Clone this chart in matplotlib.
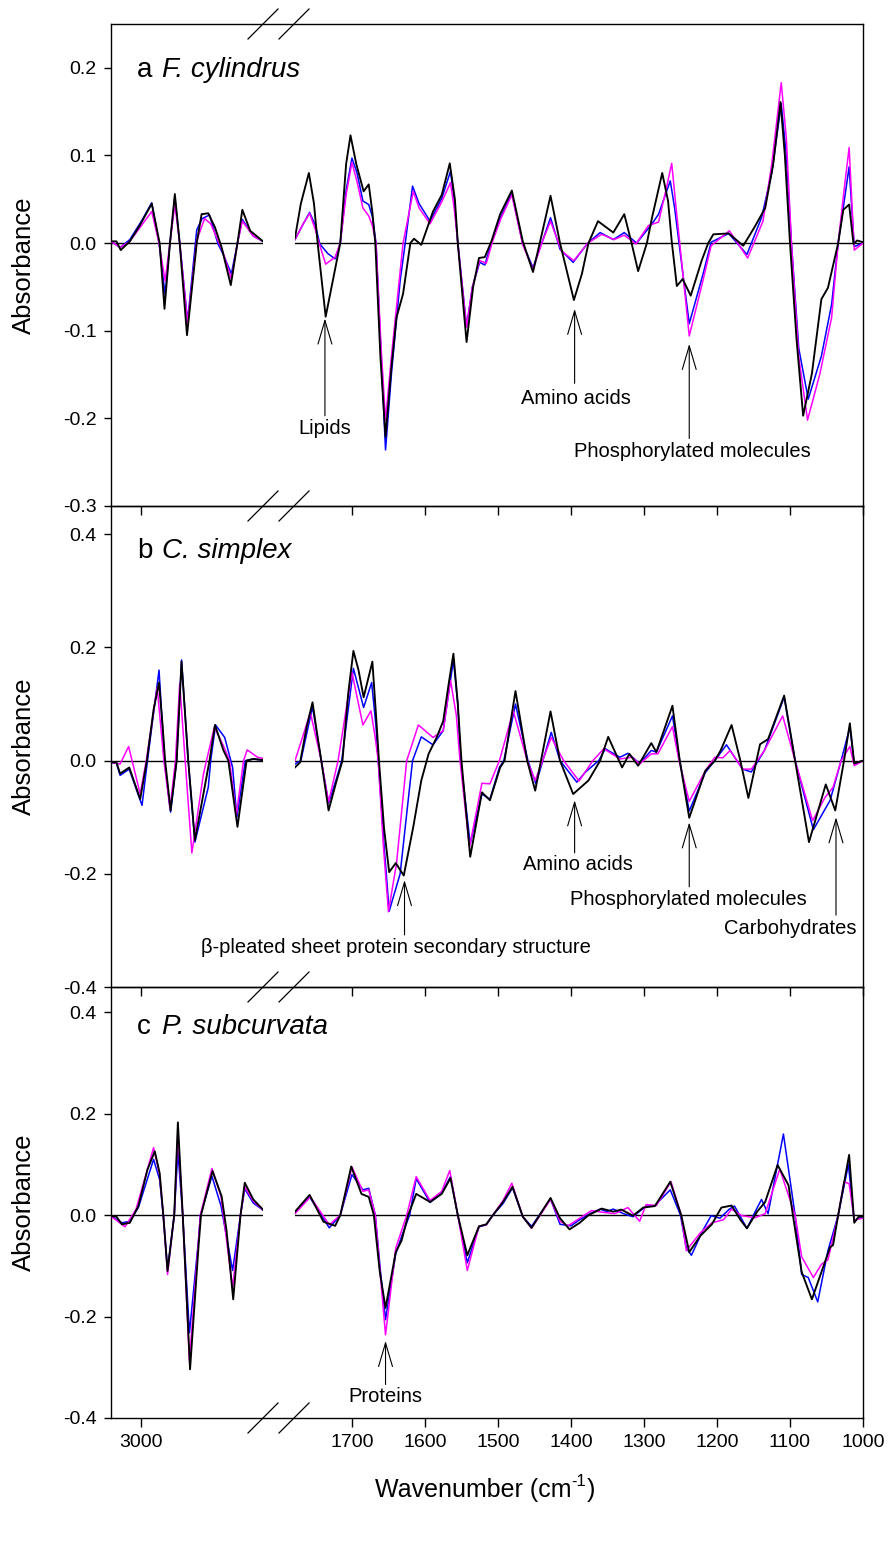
import numpy as np
import matplotlib
matplotlib.use('Agg')
import matplotlib.pyplot as plt
from matplotlib.lines import Line2D

plt.rcParams['font.family'] = ['Liberation Sans', 'DejaVu Sans']
plt.rcParams['axes.unicode_minus'] = False

# ---- data: (wavenumber, second derivative absorbance) ----
# panel a, F. cylindrus, 3050-2800 segment
a_black_L = [(3050, 0.002), (3041, 0.002), (3034, -0.008), (3019, 0.002), (3002, 0.021), (2983, 0.045),
             (2970, 0.0), (2962, -0.075), (2953, 0.0), (2945, 0.056), (2937, 0.0), (2925, -0.105),
             (2909, 0.0), (2901, 0.033), (2890, 0.034), (2879, 0.018), (2868, -0.005), (2853, -0.048),
             (2842, 0.0), (2834, 0.038), (2821, 0.014), (2800, 0.002)]
a_blue_L = [(3050, 0.002), (3035, -0.005), (3019, 0.004), (3000, 0.025), (2983, 0.046), (2971, 0.0),
            (2961, -0.059), (2953, 0.0), (2945, 0.052), (2937, 0.0), (2924, -0.089), (2909, 0.015),
            (2900, 0.028), (2888, 0.032), (2874, -0.001), (2866, -0.012), (2852, -0.035), (2842, 0.0),
            (2834, 0.027), (2816, 0.008), (2800, 0.002)]
a_pink_L = [(3050, 0.002), (3035, -0.005), (3019, 0.002), (3000, 0.02), (2983, 0.036), (2971, 0.0),
            (2961, -0.043), (2953, 0.0), (2945, 0.044), (2937, 0.0), (2924, -0.091), (2909, 0.003),
            (2896, 0.028), (2886, 0.022), (2866, -0.01), (2852, -0.041), (2842, 0.0), (2834, 0.025),
            (2816, 0.008), (2800, 0.002)]
# panel a, 1778-1000 segment
a_black_R = [(1778, 0.006), (1770, 0.045), (1759, 0.080), (1752, 0.045), (1747, 0.0), (1736, -0.084),
             (1726, -0.042), (1716, 0.0), (1708, 0.09), (1702, 0.123), (1694, 0.09), (1684, 0.059),
             (1677, 0.067), (1672, 0.035), (1668, 0.0), (1661, -0.13), (1654, -0.221), (1646, -0.142),
             (1639, -0.085), (1630, -0.058), (1620, 0.0), (1615, 0.005), (1605, -0.002), (1589, 0.036),
             (1577, 0.055), (1566, 0.091), (1559, 0.05), (1555, 0.0), (1543, -0.113), (1534, -0.05),
             (1526, -0.017), (1518, -0.016), (1509, 0.002), (1497, 0.033), (1481, 0.060), (1466, 0.002),
             (1452, -0.033), (1440, 0.01), (1428, 0.054), (1415, 0.0), (1396, -0.065), (1385, -0.035),
             (1376, 0.0), (1363, 0.025), (1342, 0.012), (1327, 0.033), (1317, 0.0), (1308, -0.032),
             (1296, 0.0), (1289, 0.029), (1275, 0.080), (1267, 0.048), (1262, 0.002), (1255, -0.049),
             (1247, -0.041), (1236, -0.060), (1221, -0.02), (1212, 0.0), (1205, 0.010), (1184, 0.011),
             (1164, -0.003), (1148, 0.019), (1134, 0.040), (1123, 0.09), (1113, 0.161), (1107, 0.1),
             (1100, 0.0), (1091, -0.11), (1082, -0.197), (1070, -0.149), (1057, -0.064), (1048, -0.051),
             (1034, 0.0), (1027, 0.038), (1019, 0.044), (1013, -0.001), (1008, 0.003), (1000, 0.001)]
a_blue_R = [(1778, 0.004), (1768, 0.02), (1758, 0.035), (1750, 0.02), (1744, -0.001), (1733, -0.012),
            (1723, -0.018), (1716, 0.0), (1708, 0.06), (1700, 0.097), (1693, 0.08), (1685, 0.048),
            (1677, 0.044), (1672, 0.03), (1667, 0.0), (1660, -0.13), (1654, -0.236), (1646, -0.15),
            (1634, -0.043), (1627, 0.0), (1617, 0.065), (1608, 0.045), (1593, 0.025), (1577, 0.051),
            (1565, 0.082), (1560, 0.05), (1555, 0.0), (1543, -0.095), (1535, -0.05), (1525, -0.022),
            (1518, -0.025), (1509, 0.0), (1496, 0.030), (1481, 0.057), (1466, -0.001), (1452, -0.028),
            (1440, 0.0), (1428, 0.029), (1415, -0.007), (1397, -0.022), (1377, 0.0), (1360, 0.012),
            (1342, 0.004), (1327, 0.012), (1310, 0.0), (1289, 0.022), (1280, 0.033), (1264, 0.071),
            (1258, 0.04), (1252, 0.0), (1238, -0.092), (1219, -0.035), (1208, 0.001), (1184, 0.011),
            (1159, -0.013), (1139, 0.029), (1125, 0.08), (1112, 0.159), (1105, 0.1), (1098, 0.0),
            (1088, -0.12), (1075, -0.178), (1057, -0.129), (1043, -0.070), (1034, 0.0), (1019, 0.087),
            (1012, -0.004), (1000, 0.0)]
a_pink_R = [(1778, 0.004), (1768, 0.02), (1758, 0.034), (1750, 0.015), (1745, 0.0), (1736, -0.024),
            (1723, -0.016), (1716, 0.0), (1708, 0.055), (1700, 0.092), (1693, 0.07), (1685, 0.040),
            (1677, 0.031), (1672, 0.02), (1667, 0.0), (1660, -0.12), (1654, -0.202), (1646, -0.13),
            (1639, -0.073), (1630, 0.0), (1616, 0.059), (1608, 0.04), (1593, 0.022), (1577, 0.047),
            (1565, 0.069), (1560, 0.04), (1555, 0.0), (1543, -0.096), (1535, -0.05), (1525, -0.02),
            (1516, -0.023), (1507, 0.003), (1496, 0.028), (1481, 0.055), (1466, -0.002), (1452, -0.030),
            (1440, 0.0), (1428, 0.025), (1413, -0.009), (1396, -0.020), (1377, 0.0), (1358, 0.010),
            (1341, 0.004), (1327, 0.009), (1311, -0.001), (1294, 0.020), (1280, 0.024), (1270, 0.06),
            (1262, 0.091), (1256, 0.04), (1251, 0.0), (1238, -0.106), (1219, -0.042), (1208, -0.003),
            (1183, 0.014), (1158, -0.017), (1137, 0.025), (1125, 0.09), (1112, 0.183), (1105, 0.12),
            (1098, 0.0), (1088, -0.13), (1076, -0.202), (1059, -0.149), (1043, -0.085), (1034, 0.0),
            (1026, 0.06), (1019, 0.109), (1012, -0.008), (1000, 0.0)]

# panel b, C. simplex
b_black_L = [(3050, -0.003), (3041, -0.003), (3035, -0.023), (3020, -0.012), (3002, -0.068), (2991, 0.0),
             (2980, 0.09), (2971, 0.138), (2965, 0.06), (2961, 0.0), (2952, -0.088), (2942, 0.0),
             (2934, 0.175), (2923, 0.0), (2912, -0.141), (2895, -0.041), (2888, 0.0), (2879, 0.063),
             (2865, 0.018), (2857, 0.0), (2842, -0.117), (2827, 0.0), (2816, 0.003), (2800, 0.001)]
b_blue_L = [(3050, -0.003), (3041, -0.005), (3035, -0.026), (3020, -0.015), (2999, -0.079), (2990, 0.0),
            (2971, 0.160), (2962, 0.0), (2952, -0.091), (2942, 0.0), (2934, 0.178), (2923, 0.0),
            (2912, -0.144), (2890, -0.047), (2886, 0.0), (2878, 0.063), (2863, 0.041), (2850, -0.012),
            (2843, -0.1), (2829, 0.0), (2816, 0.003), (2800, 0.001)]
b_pink_L = [(3050, -0.003), (3035, -0.006), (3021, 0.025), (3002, -0.059), (2992, 0.0), (2974, 0.129),
            (2963, 0.0), (2953, -0.085), (2944, 0.0), (2937, 0.136), (2928, 0.0), (2917, -0.163),
            (2898, -0.024), (2893, 0.0), (2880, 0.059), (2865, 0.026), (2855, 0.0), (2844, -0.097),
            (2832, 0.0), (2826, 0.019), (2809, 0.006), (2800, 0.004)]
b_black_R = [(1778, -0.012), (1771, -0.003), (1762, 0.06), (1754, 0.103), (1748, 0.05), (1742, 0.0),
             (1732, -0.088), (1722, -0.04), (1713, 0.0), (1705, 0.12), (1698, 0.194), (1691, 0.16),
             (1684, 0.112), (1672, 0.175), (1667, 0.08), (1663, 0.0), (1656, -0.12), (1649, -0.197),
             (1640, -0.181), (1629, -0.203), (1616, -0.117), (1605, -0.035), (1595, 0.012), (1584, 0.041),
             (1575, 0.070), (1567, 0.14), (1561, 0.189), (1555, 0.1), (1550, 0.0), (1538, -0.170),
             (1522, -0.056), (1511, -0.07), (1497, -0.012), (1491, 0.0), (1476, 0.123), (1460, 0.0),
             (1449, -0.053), (1428, 0.087), (1415, 0.0), (1397, -0.059), (1376, -0.035), (1360, 0.0),
             (1349, 0.042), (1330, -0.012), (1320, 0.012), (1308, -0.009), (1290, 0.031), (1283, 0.015),
             (1261, 0.097), (1251, 0.0), (1238, -0.101), (1216, -0.018), (1203, 0.0), (1195, 0.018),
             (1180, 0.063), (1168, 0.0), (1157, -0.066), (1141, 0.029), (1130, 0.038), (1108, 0.115),
             (1093, 0.0), (1074, -0.144), (1051, -0.042), (1038, -0.088), (1026, 0.0), (1018, 0.066),
             (1012, -0.005), (1000, 0.0)]
b_blue_R = [(1778, -0.006), (1770, 0.0), (1754, 0.095), (1742, 0.0), (1732, -0.075), (1722, -0.035),
            (1714, 0.0), (1698, 0.163), (1684, 0.094), (1673, 0.138), (1667, 0.06), (1664, 0.0),
            (1656, -0.15), (1649, -0.266), (1634, -0.200), (1625, -0.094), (1617, 0.0), (1605, 0.042),
            (1589, 0.028), (1575, 0.053), (1561, 0.178), (1555, 0.1), (1551, 0.0), (1538, -0.147),
            (1522, -0.059), (1511, -0.068), (1498, -0.012), (1492, 0.0), (1476, 0.100), (1459, 0.0),
            (1448, -0.041), (1427, 0.050), (1415, 0.0), (1392, -0.038), (1380, -0.02), (1362, 0.0),
            (1353, 0.021), (1333, 0.006), (1322, 0.013), (1306, -0.005), (1290, 0.018), (1283, 0.015),
            (1261, 0.079), (1251, 0.0), (1238, -0.089), (1216, -0.021), (1203, 0.0), (1187, 0.028),
            (1165, -0.015), (1153, -0.02), (1135, 0.018), (1108, 0.112), (1093, 0.0), (1068, -0.122),
            (1045, -0.070), (1030, 0.0), (1018, 0.059), (1012, -0.005), (1000, 0.0)]
b_pink_R = [(1778, 0.0), (1768, 0.04), (1757, 0.085), (1742, 0.0), (1732, -0.073), (1719, 0.0),
            (1700, 0.156), (1685, 0.063), (1674, 0.088), (1668, 0.04), (1664, 0.0), (1657, -0.15),
            (1650, -0.267), (1639, -0.182), (1625, 0.0), (1609, 0.063), (1589, 0.041), (1575, 0.053),
            (1565, 0.142), (1557, 0.08), (1552, 0.0), (1539, -0.153), (1522, -0.040), (1511, -0.041),
            (1498, 0.0), (1479, 0.088), (1460, 0.0), (1449, -0.035), (1427, 0.041), (1410, 0.0),
            (1389, -0.036), (1370, 0.0), (1355, 0.021), (1333, 0.003), (1316, 0.006), (1306, -0.006),
            (1290, 0.012), (1281, 0.012), (1261, 0.060), (1252, 0.0), (1238, -0.072), (1216, -0.018),
            (1203, 0.006), (1192, 0.005), (1182, 0.018), (1165, -0.015), (1153, -0.015), (1135, 0.018),
            (1110, 0.079), (1093, 0.0), (1069, -0.106), (1052, -0.065), (1041, -0.047), (1030, 0.0),
            (1018, 0.025), (1012, -0.009), (1000, 0.0)]

# panel c, P. subcurvata
c_black_L = [(3050, -0.002), (3041, -0.003), (3032, -0.018), (3019, -0.015), (3005, 0.018), (2990, 0.09),
             (2978, 0.126), (2970, 0.083), (2964, 0.0), (2957, -0.110), (2946, 0.0), (2940, 0.183),
             (2932, 0.0), (2920, -0.304), (2906, -0.061), (2902, 0.0), (2891, 0.051), (2883, 0.087),
             (2868, 0.037), (2860, -0.03), (2849, -0.166), (2837, 0.0), (2830, 0.064), (2816, 0.031),
             (2800, 0.011)]
c_blue_L = [(3050, -0.002), (3032, -0.015), (3019, -0.012), (3005, 0.015), (2980, 0.110), (2970, 0.07),
            (2964, 0.0), (2957, -0.107), (2946, 0.0), (2940, 0.126), (2932, 0.0), (2921, -0.232),
            (2906, -0.048), (2903, 0.0), (2884, 0.077), (2869, 0.018), (2850, -0.109), (2837, 0.0),
            (2830, 0.052), (2816, 0.024), (2800, 0.010)]
c_pink_L = [(3050, -0.002), (3027, -0.023), (3009, 0.011), (2980, 0.133), (2970, 0.08), (2964, 0.0),
            (2957, -0.117), (2946, 0.0), (2940, 0.166), (2932, 0.0), (2921, -0.288), (2906, -0.048),
            (2903, 0.0), (2884, 0.092), (2869, 0.037), (2850, -0.143), (2837, 0.0), (2830, 0.056),
            (2816, 0.028), (2800, 0.010)]
c_black_R = [(1778, 0.007), (1758, 0.040), (1739, -0.013), (1723, -0.021), (1716, 0.0), (1701, 0.096),
             (1687, 0.042), (1677, 0.036), (1670, 0.0), (1662, -0.11), (1654, -0.183), (1640, -0.073),
             (1632, -0.050), (1623, 0.0), (1612, 0.042), (1593, 0.026), (1577, 0.042), (1565, 0.073),
             (1555, 0.0), (1542, -0.079), (1526, -0.022), (1516, -0.018), (1507, 0.0), (1493, 0.026),
             (1480, 0.056), (1466, -0.003), (1454, -0.025), (1428, 0.034), (1415, -0.006), (1402, -0.028),
             (1388, -0.015), (1376, 0.0), (1358, 0.013), (1342, 0.007), (1331, 0.011), (1315, -0.001),
             (1301, 0.015), (1285, 0.018), (1264, 0.066), (1249, 0.0), (1238, -0.073), (1223, -0.041),
             (1207, -0.018), (1194, 0.015), (1180, 0.019), (1168, -0.009), (1159, -0.026), (1145, 0.007),
             (1134, 0.026), (1117, 0.099), (1102, 0.059), (1096, 0.0), (1084, -0.112), (1070, -0.166),
             (1054, -0.100), (1045, -0.063), (1041, -0.059), (1034, 0.0), (1019, 0.119), (1012, -0.015),
             (1006, -0.003), (1000, -0.003)]
c_blue_R = [(1778, 0.005), (1758, 0.036), (1731, -0.025), (1716, 0.0), (1700, 0.080), (1685, 0.050),
            (1677, 0.053), (1668, 0.0), (1661, -0.11), (1654, -0.206), (1640, -0.076), (1631, -0.038),
            (1621, 0.0), (1612, 0.072), (1593, 0.025), (1577, 0.044), (1565, 0.076), (1555, 0.0),
            (1542, -0.094), (1526, -0.023), (1516, -0.019), (1507, 0.0), (1493, 0.023), (1480, 0.054),
            (1466, -0.003), (1454, -0.022), (1428, 0.032), (1415, -0.018), (1400, -0.021), (1388, -0.009),
            (1374, 0.003), (1360, 0.012), (1351, 0.007), (1342, 0.012), (1328, 0.003), (1315, -0.003),
            (1297, 0.018), (1286, 0.018), (1264, 0.050), (1250, 0.0), (1242, -0.065), (1235, -0.079),
            (1219, -0.029), (1208, -0.001), (1196, -0.006), (1183, 0.012), (1176, 0.018), (1159, -0.026),
            (1148, 0.006), (1139, 0.031), (1130, 0.003), (1109, 0.160), (1093, 0.0), (1084, -0.117),
            (1075, -0.123), (1062, -0.171), (1048, -0.070), (1034, 0.0), (1020, 0.100), (1012, -0.012),
            (1006, -0.006), (1000, -0.006)]
c_pink_R = [(1778, 0.003), (1757, 0.036), (1731, -0.019), (1716, 0.0), (1700, 0.095), (1685, 0.047),
            (1677, 0.050), (1668, 0.0), (1661, -0.12), (1654, -0.236), (1640, -0.065), (1625, 0.0),
            (1612, 0.076), (1593, 0.029), (1577, 0.047), (1566, 0.088), (1555, 0.0), (1542, -0.109),
            (1526, -0.022), (1516, -0.019), (1507, 0.0), (1493, 0.029), (1481, 0.063), (1466, -0.003),
            (1454, -0.026), (1428, 0.031), (1415, -0.012), (1404, -0.021), (1388, -0.006), (1372, 0.009),
            (1358, 0.006), (1340, 0.003), (1322, 0.015), (1306, -0.012), (1297, 0.021), (1283, 0.019),
            (1263, 0.066), (1249, 0.0), (1242, -0.070), (1223, -0.035), (1207, -0.015), (1191, -0.009),
            (1180, 0.012), (1166, -0.001), (1148, -0.005), (1134, 0.003), (1114, 0.091), (1093, 0.0),
            (1084, -0.082), (1068, -0.123), (1057, -0.097), (1048, -0.088), (1034, 0.0), (1026, 0.066),
            (1019, 0.062), (1012, -0.009), (1000, -0.006)]

panel_letters = ["a", "b", "c"]
species = ["F. cylindrus", "C. simplex", "P. subcurvata"]
ylims = [(-0.3, 0.25), (-0.4, 0.45), (-0.4, 0.45)]
yticks = [[-0.3, -0.2, -0.1, 0.0, 0.1, 0.2], [-0.4, -0.2, 0.0, 0.2, 0.4], [-0.4, -0.2, 0.0, 0.2, 0.4]]

# notes: label, tip wavenumber, tip value, tail value, text wavenumber, text value
a_notes = [("Lipids", 1737, -0.086, -0.197, 1737, -0.211),
           ("Amino acids", 1395, -0.075, -0.160, 1393, -0.177),
           ("Phosphorylated molecules", 1238, -0.115, -0.223, 1234, -0.238)]
b_notes = [("\u03b2-pleated sheet protein secondary structure", 1628, -0.211, -0.308, 1640, -0.331),
           ("Amino acids", 1395, -0.070, -0.163, 1390, -0.183),
           ("Phosphorylated molecules", 1238, -0.109, -0.223, 1239, -0.245),
           ("Carbohydrates", 1037, -0.100, -0.273, 1099, -0.297)]
c_notes = [("Proteins", 1654, -0.248, -0.334, 1654, -0.357)]

curves_L = [(a_blue_L, a_pink_L, a_black_L), (b_blue_L, b_pink_L, b_black_L), (c_blue_L, c_pink_L, c_black_L)]
curves_R = [(a_blue_R, a_pink_R, a_black_R), (b_blue_R, b_pink_R, b_black_R), (c_blue_R, c_pink_R, c_black_R)]
notes = [a_notes, b_notes, c_notes]

# ---- layout (pixels) ----
W, H = 891, 1564
fig = plt.figure(figsize=(W / 100, H / 100), dpi=100)


def box(l, t, r, b):
    return [l / W, 1 - b / H, (r - l) / W, (b - t) / H]


rows = [(24, 506), (506, 987), (987, 1418)]
title_base = [77, 558, 1034]
colors = ['#0000ff', '#ff00ff', 'black']
widths = [1.1, 1.1, 1.35]

for i, (top, bot) in enumerate(rows):
    bg = fig.add_axes(box(111, top, 863, bot))
    bg.set_xticks([])
    bg.set_yticks([])
    bg.patch.set_visible(False)
    for s in bg.spines.values():
        s.set_linewidth(1.0)

    axL = fig.add_axes(box(111, top, 263, bot))
    axR = fig.add_axes(box(295, top, 863, bot))
    for ax in (axL, axR):
        ax.patch.set_visible(False)
        for s in ax.spines.values():
            s.set_visible(False)
        ax.set_ylim(*ylims[i])
        ax.axhline(0, color='black', lw=1.0, zorder=1)
        ax.tick_params(axis='x', direction='out', length=6.7, width=1.0, labelsize=14, pad=5,
                       labelbottom=(i == 2))
    axL.set_xlim(3050, 2800)
    axR.set_xlim(1778, 1000)
    axL.set_xticks([3000])
    axR.set_xticks(np.arange(1000, 1800, 100))

    axL.set_yticks(yticks[i])
    axL.yaxis.set_major_formatter('{x:.1f}')
    axL.tick_params(axis='y', direction='out', length=5.3, width=1.0, labelsize=14, pad=5)
    axR.tick_params(axis='y', left=False, labelleft=False)

    for pts, col, lw in zip(curves_L[i], colors, widths):
        w, v = zip(*pts)
        axL.plot(w, v, color=col, lw=lw, zorder=2)
    for pts, col, lw in zip(curves_R[i], colors, widths):
        w, v = zip(*pts)
        axR.plot(w, v, color=col, lw=lw, zorder=2)

    for label, xw, yt, ytail, xtext, ytext in notes[i]:
        axR.annotate('', xy=(xw, yt), xytext=(xw, ytail),
                     arrowprops=dict(arrowstyle='->,head_length=0.85,head_width=0.25', lw=0.8,
                                     color='black', shrinkA=0, shrinkB=0, mutation_scale=20))
        axR.text(xtext, ytext, label, ha='center', va='center', fontsize=14.5)

    fig.text(137 / W, 1 - title_base[i] / H, panel_letters[i], fontsize=20, ha='left', va='baseline')
    fig.text(162 / W, 1 - title_base[i] / H, species[i], fontsize=20, style='italic',
             ha='left', va='baseline')
    fig.text(24 / W, 1 - (top + bot) / 2 / H, 'Absorbance', fontsize=18.5, rotation=90,
             ha='center', va='center')

# axis break marks
for yb in [24, 506, 987, 1418]:
    for cx in [263, 294]:
        fig.add_artist(Line2D([(cx - 15) / W, (cx + 15) / W], [1 - (yb + 15) / H, 1 - (yb - 15) / H],
                              transform=fig.transFigure, color='black', lw=0.9))

# x label with a plain hyphen in the exponent
xl = fig.text(375 / W, 1 - 1497 / H, 'Wavenumber (cm', fontsize=18, ha='left', va='baseline')
fig.canvas.draw()
bb = xl.get_window_extent()
sup = fig.text(bb.x1 / W, 1 - 1486 / H, '-1', fontsize=12, ha='left', va='baseline')
bb2 = sup.get_window_extent(renderer=fig.canvas.get_renderer())
fig.text(bb2.x1 / W + 0.001, 1 - 1497 / H, ')', fontsize=18, ha='left', va='baseline')

fig.savefig('out.png', dpi=100)
